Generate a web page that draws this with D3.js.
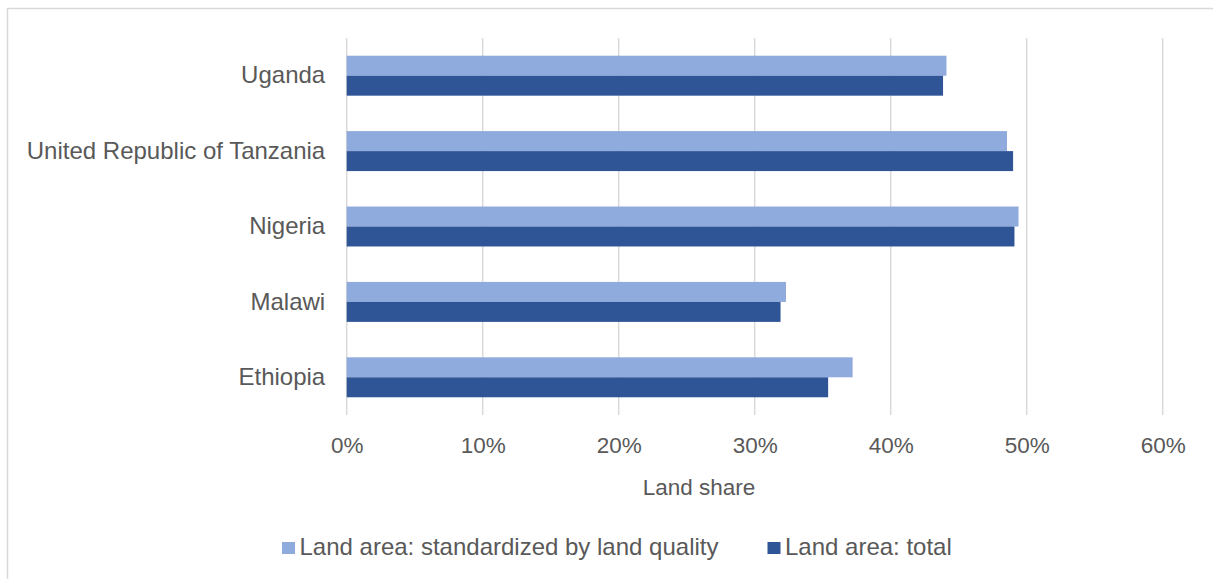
<!DOCTYPE html>
<html>
<head>
<meta charset="utf-8">
<script src="https://cdn.jsdelivr.net/npm/d3@7"></script>
<style>
  html, body { margin: 0; padding: 0; background: #fff; }
  svg { display: block; font-family: "Liberation Sans", Arial, sans-serif; }
</style>
</head>
<body>
<svg id="chart" width="1213" height="579"></svg>
<script>
// Countries, listed top to bottom
const countries = ["Uganda", "United Republic of Tanzania", "Nigeria", "Malawi", "Ethiopia"];
// Land share, standardized by land quality
const standardized = [0.441, 0.4855, 0.494, 0.323, 0.372];
// Land share, total land area
const total = [0.4385, 0.49, 0.491, 0.319, 0.354];
const seriesNames = ["Land area: standardized by land quality", "Land area: total"];
const xTicks = [0, 0.1, 0.2, 0.3, 0.4, 0.5, 0.6];

const colors = ["#8FAADC", "#2F5597"];
const textColor = "#595959";
const gridColor = "#D9D9D9";

const svg = d3.select("#chart");

// outer frame
svg.append("rect")
  .attr("x", 7.5).attr("y", 8.5)
  .attr("width", 1220).attr("height", 600)
  .attr("fill", "none").attr("stroke", gridColor).attr("stroke-width", 1.5);

const plot = { left: 346.7, right: 1162.7, top: 38, bottom: 415 };

const x = d3.scaleLinear().domain([0, 0.6]).range([plot.left, plot.right]);
const y = d3.scaleBand().domain(countries).range([plot.top, plot.bottom]).paddingInner(0.47).paddingOuter(0.235);
const sub = d3.scaleBand().domain([0, 1]).range([0, y.bandwidth()]);

// vertical gridlines
svg.append("g")
  .selectAll("line")
  .data(xTicks)
  .join("line")
  .attr("x1", d => x(d)).attr("x2", d => x(d))
  .attr("y1", plot.top).attr("y2", plot.bottom)
  .attr("stroke", gridColor).attr("stroke-width", 1.5);

// x axis labels
const xAxis = d3.axisBottom(x).tickValues(xTicks).tickFormat(d3.format(".0%")).tickSize(0).tickPadding(0);
const gx = svg.append("g").attr("transform", `translate(0,${plot.bottom + 22})`).call(xAxis);
gx.select(".domain").remove();
gx.selectAll("text").attr("fill", textColor).attr("font-size", 22.5).attr("font-family", "Liberation Sans, Arial, sans-serif");

// y axis labels
const yAxis = d3.axisLeft(y).tickSize(0).tickPadding(21.5);
const gy = svg.append("g").attr("transform", `translate(${plot.left},0)`).call(yAxis);
gy.select(".domain").remove();
gy.selectAll("text").attr("fill", textColor).attr("font-size", 24).attr("font-family", "Liberation Sans, Arial, sans-serif");

// bars
const series = [standardized, total];
series.forEach((vals, si) => {
  svg.append("g")
    .selectAll("rect")
    .data(countries.map((c, i) => ({ c, v: vals[i] })))
    .join("rect")
    .attr("x", x(0))
    .attr("y", d => y(d.c) + sub(si))
    .attr("width", d => x(d.v) - x(0))
    .attr("height", sub.bandwidth())
    .attr("fill", colors[si]);
});

// axis title
svg.append("text")
  .attr("x", 699)
  .attr("y", 495)
  .attr("text-anchor", "middle")
  .attr("fill", textColor)
  .attr("font-size", 22.5)
  .text("Land share");

// legend
const legendItems = [
  { name: seriesNames[0], color: colors[0], x: 282 },
  { name: seriesNames[1], color: colors[1], x: 767.5 }
];
const lg = svg.append("g");
legendItems.forEach(item => {
  lg.append("rect")
    .attr("x", item.x).attr("y", 542)
    .attr("width", 13).attr("height", 12)
    .attr("fill", item.color);
  lg.append("text")
    .attr("x", item.x + 17.5).attr("y", 555)
    .attr("fill", textColor)
    .attr("font-size", 24)
    .text(item.name);
});
</script>
</body>
</html>
